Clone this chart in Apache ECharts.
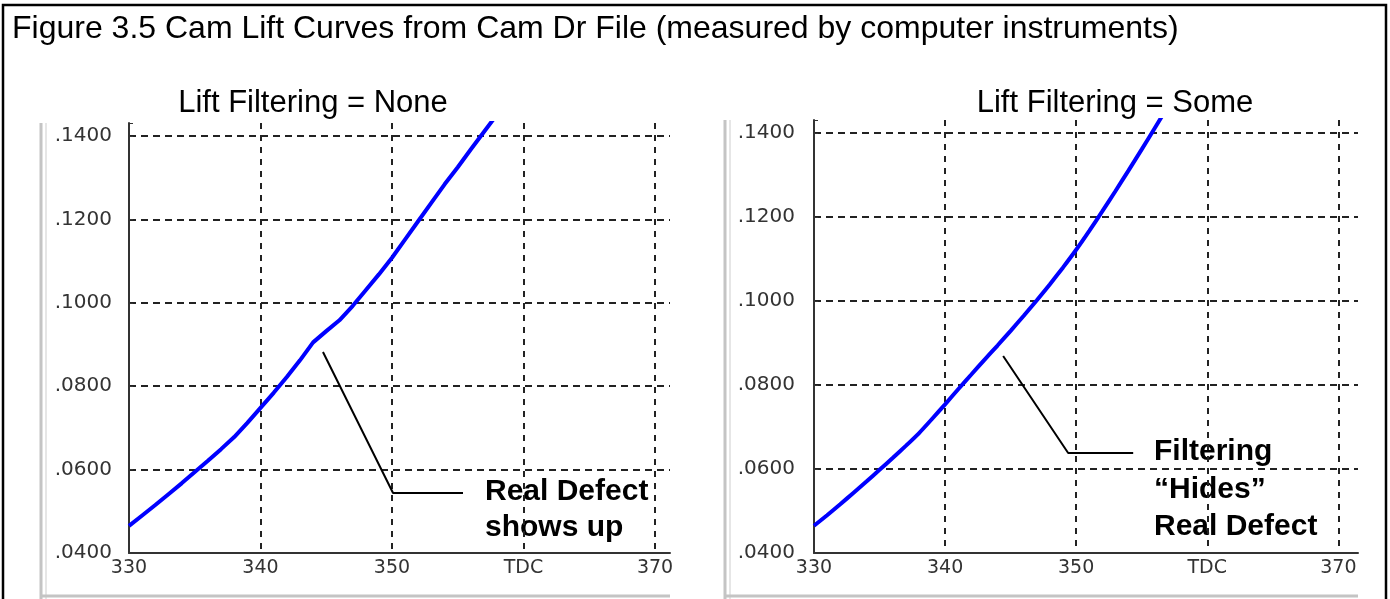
<!DOCTYPE html>
<html>
<head>
<meta charset="utf-8">
<script src="https://cdn.jsdelivr.net/npm/echarts@6/dist/echarts.min.js"></script>
<style>
    html, body { margin: 0; padding: 0; background: #fff; }
    #chart { width: 1390px; height: 599px; }
</style>
</head>
<body>
<div id="chart"></div>
<script>
    // crank angle (deg) and measured lift (in)
    var angles = [330, 331, 332, 333, 334, 335, 336, 337, 338, 339, 340, 341, 342, 343, 344,
        345, 346, 347, 348, 349, 350, 351, 352, 353, 354, 355, 356, 357, 358];
    var liftNone = [0.0465, 0.0490, 0.0515, 0.0541, 0.0567, 0.0594, 0.0621, 0.0649, 0.0678, 0.0712,
        0.0748, 0.0784, 0.0822, 0.0862, 0.0905, 0.0932, 0.0958, 0.0992, 0.1030, 0.1068,
        0.1108, 0.1152, 0.1196, 0.1240, 0.1284, 0.1325, 0.1368, 0.1410, 0.1452];
    var liftSome = [0.0465, 0.0490, 0.0516, 0.0543, 0.0570, 0.0598, 0.0626, 0.0655, 0.0685, 0.0719,
        0.0754, 0.0790, 0.0825, 0.0860, 0.0894, 0.0929, 0.0965, 0.1002, 0.1040, 0.1080,
        0.1122, 0.1167, 0.1214, 0.1262, 0.1311, 0.1361, 0.1412, 0.1463, 0.1514];
    var xTicks = [330, 340, 350, 360, 370];
    var xTickNames = ['330', '340', '350', 'TDC', '370'];
    var yTicks = [0.04, 0.06, 0.08, 0.10, 0.12, 0.14];

    // leader lines of the notes, in data units (angle, lift)
    var leaderNone = [[344.75, 0.0882], [350.08, 0.0544], [355.4, 0.0544]];
    var leaderSome = [[344.43, 0.0869], [349.39, 0.0638], [354.35, 0.0638]];

    var panelTitles = ['Lift Filtering = None', 'Lift Filtering = Some'];
    var noteNone = ['Real Defect', 'shows up'];
    var noteSome = ['Filtering', '\u201cHides\u201d', 'Real Defect'];

    function zip (xs, ys) {
        return xs.map(function (x, i) { return [x, ys[i]]; });
    }

    function xAxis (gridIndex, max) {
        return {
            type: 'value',
            gridIndex: gridIndex,
            min: 330,
            max: max,
            interval: 10,
            axisLine: { show: true, onZero: false, lineStyle: { color: '#333', width: 2 } },
            axisTick: { show: false },
            axisLabel: {
                color: '#333',
                fontFamily: 'DejaVu Sans',
                fontSize: 19,
                margin: 6,
                formatter: function (v) {
                    var i = xTicks.indexOf(Math.round(v * 100) / 100);
                    return i < 0 ? '' : xTickNames[i];
                }
            },
            splitLine: {
                show: true,
                showMinLine: false,
                showMaxLine: false,
                lineStyle: { color: '#222', width: 2, type: [6, 6] }
            }
        };
    }

    function yAxis (gridIndex, margin) {
        return {
            type: 'value',
            gridIndex: gridIndex,
            min: 0.04,
            max: 0.1431,
            interval: 0.02,
            axisLine: { show: true, onZero: false, lineStyle: { color: '#333', width: 2 } },
            axisTick: { show: true, inside: true, length: 4, lineStyle: { color: '#333' } },
            axisLabel: {
                color: '#333',
                fontFamily: 'DejaVu Sans',
                fontSize: 20,
                margin: margin,
                formatter: function (v) {
                    for (var i = 0; i < yTicks.length; i++) {
                        if (Math.abs(v - yTicks[i]) < 1e-6) {
                            return yTicks[i].toFixed(4).replace('0.', '.');
                        }
                    }
                    return '';
                }
            },
            splitLine: {
                show: true,
                showMinLine: false,
                showMaxLine: false,
                lineStyle: { color: '#222', width: 2, type: [7, 5] }
            }
        };
    }

    function text (x, y, str, font, align) {
        return {
            type: 'text',
            x: x,
            y: y,
            style: {
                text: str,
                font: font,
                fill: '#000',
                align: align || 'left',
                verticalAlign: 'middle'
            }
        };
    }

    function line (x1, y1, x2, y2, color, width) {
        return {
            type: 'line',
            shape: { x1: x1, y1: y1, x2: x2, y2: y2 },
            style: { stroke: color, lineWidth: width }
        };
    }

    var titleFont = '32px "Liberation Sans", Arial, sans-serif';
    var panelFont = '31px "Liberation Sans", Arial, sans-serif';
    var noteFont = 'bold 30px "Liberation Sans", Arial, sans-serif';

    var graphic = [
        {
            type: 'rect',
            shape: { x: 3, y: 5, width: 1383, height: 610 },
            style: { fill: 'none', stroke: '#000', lineWidth: 2.5 }
        },
        // gray panel frames
        line(41, 123, 41, 599, '#c4c4c4', 3),
        line(46, 123, 46, 599, '#dedede', 1.5),
        line(41, 596, 670, 596, '#c4c4c4', 3),
        line(725, 120, 725, 599, '#c4c4c4', 3),
        line(730, 120, 730, 599, '#dedede', 1.5),
        line(725, 596, 1358, 596, '#c4c4c4', 3),
        text(12, 29, 'Figure 3.5 Cam Lift Curves from Cam Dr File (measured by computer instruments)', titleFont),
        text(313, 103, panelTitles[0], panelFont, 'center'),
        text(1115, 103, panelTitles[1], panelFont, 'center'),
        text(485, 492, noteNone[0], noteFont),
        text(485, 528, noteNone[1], noteFont),
        text(1154, 452, noteSome[0], noteFont),
        text(1154, 490, noteSome[1], noteFont),
        text(1154, 527, noteSome[2], noteFont)
    ];

    var option = {
        backgroundColor: '#fff',
        animation: false,
        grid: [
            { left: 129, top: 123, width: 541, height: 430 },
            { left: 814, top: 120, width: 544, height: 433 }
        ],
        xAxis: [xAxis(0, 371.14), xAxis(1, 371.5)],
        yAxis: [yAxis(0, 17), yAxis(1, 19)],
        series: [
            {
                name: 'None',
                type: 'line',
                xAxisIndex: 0,
                yAxisIndex: 0,
                data: zip(angles, liftNone),
                showSymbol: false,
                clip: true,
                lineStyle: { color: '#0000ff', width: 4 }
            },
            {
                name: 'Some',
                type: 'line',
                xAxisIndex: 1,
                yAxisIndex: 1,
                data: zip(angles, liftSome),
                smooth: 0.2,
                showSymbol: false,
                clip: true,
                lineStyle: { color: '#0000ff', width: 4 }
            },
            {
                type: 'line',
                xAxisIndex: 0,
                yAxisIndex: 0,
                data: leaderNone,
                showSymbol: false,
                lineStyle: { color: '#000', width: 2 }
            },
            {
                type: 'line',
                xAxisIndex: 1,
                yAxisIndex: 1,
                data: leaderSome,
                showSymbol: false,
                lineStyle: { color: '#000', width: 2 }
            }
        ],
        graphic: graphic
    };

    var chart = echarts.init(document.getElementById('chart'));
    chart.setOption(option, true);
</script>
</body>
</html>
